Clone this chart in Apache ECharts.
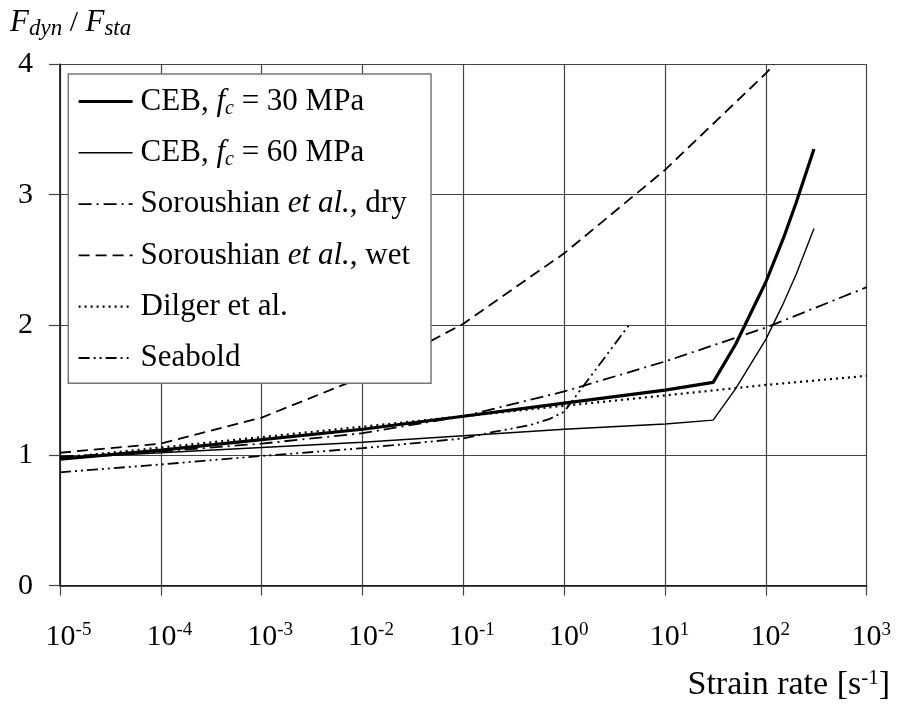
<!DOCTYPE html>
<html><head><meta charset="utf-8">
<script src="https://cdn.jsdelivr.net/npm/echarts@6/dist/echarts.min.js"></script>
<style>html,body{margin:0;padding:0;background:#fff}#c{width:900px;height:707px}</style>
</head><body><div id="c"></div>
<script>
const FONT = '"Liberation Serif","Times New Roman",serif';

// ---- data ----
const seriesNames = ['CEB, fc = 30 MPa', 'CEB, fc = 60 MPa', 'Soroushian et al., dry', 'Soroushian et al., wet', 'Dilger et al.', 'Seabold'];
const xTickExponents = [-5, -4, -3, -2, -1, 0, 1, 2, 3];
const yTickLabels = [0, 1, 2, 3, 4];

const ceb30Rate  = [1e-5, 1e-4, 1e-3, 1e-2, 1e-1, 1, 10, 30, 50, 100, 150, 200, 300];
const ceb30Value = [0.97, 1.04, 1.12, 1.20, 1.30, 1.40, 1.50, 1.56, 1.85, 2.33, 2.67, 2.94, 3.35];

const ceb60Rate  = [1e-5, 1e-4, 1e-3, 1e-2, 1e-1, 1, 10, 30, 50, 100, 150, 200, 300];
const ceb60Value = [0.98, 1.02, 1.06, 1.10, 1.15, 1.20, 1.24, 1.27, 1.51, 1.89, 2.17, 2.39, 2.74];

const soroDryRate  = [1e-5, 1e-4, 1e-3, 1e-2, 1e-1, 1, 10, 100, 1000];
const soroDryValue = [0.99, 1.03, 1.09, 1.17, 1.30, 1.49, 1.72, 1.98, 2.29];

const soroWetRate  = [1e-5, 1e-4, 1e-3, 1e-2, 1e-1, 1, 10, 100, 120];
const soroWetValue = [1.02, 1.09, 1.29, 1.60, 2.01, 2.55, 3.19, 3.93, 4.00];

const dilgerRate  = [1e-5, 1e-4, 1e-3, 1e-2, 1e-1, 1, 10, 100, 1000];
const dilgerValue = [0.98, 1.06, 1.14, 1.22, 1.30, 1.38, 1.46, 1.54, 1.61];

const seaboldRate  = [1e-5, 1e-4, 1e-3, 1e-2, 1e-1, 0.2, 0.45, 0.72, 1, 4.4];
const seaboldValue = [0.87, 0.93, 0.995, 1.055, 1.13, 1.18, 1.23, 1.28, 1.335, 2.00];

const legendRich = {
  'CEB, fc = 30 MPa': 'CEB, {i|f}{sub|c} = 30 MPa',
  'CEB, fc = 60 MPa': 'CEB, {i|f}{sub|c} = 60 MPa',
  'Soroushian et al., dry': 'Soroushian {i|et al.}, dry',
  'Soroushian et al., wet': 'Soroushian {i|et al.}, wet',
  'Dilger et al.': 'Dilger et al.',
  'Seabold': 'Seabold'
};

function pairs(r, v) { return r.map((x, i) => [x, v[i]]); }

const styles = [
  { width: 3.2, type: 'solid' },
  { width: 1.4, type: 'solid' },
  { width: 1.8, type: [13, 5, 2, 5] },
  { width: 1.8, type: [11, 6] },
  { width: 2.2, type: [2, 4] },
  { width: 1.8, type: [11, 4, 2, 4, 2, 4] }
];
const datas = [
  pairs(ceb30Rate, ceb30Value),
  pairs(ceb60Rate, ceb60Value),
  pairs(soroDryRate, soroDryValue),
  pairs(soroWetRate, soroWetValue),
  pairs(dilgerRate, dilgerValue),
  pairs(seaboldRate, seaboldValue)
];

const chart = echarts.init(document.getElementById('c'), null, { renderer: 'canvas' });
const gridColor = '#444';

chart.setOption({
  animation: false,
  backgroundColor: '#fff',
  textStyle: { fontFamily: FONT },
  title: [
    {
      left: 10, top: 6, padding: 0,
      text: '{F|F}{s|dyn}{n| / }{F|F}{s|sta}',
      textStyle: {
        fontFamily: FONT, fontWeight: 'normal',
        rich: {
          F: { fontFamily: FONT, fontStyle: 'italic', fontWeight: 'normal', fontSize: 31, lineHeight: 34, color: '#000' },
          n: { fontFamily: FONT, fontWeight: 'normal', fontSize: 30, lineHeight: 34, color: '#000' },
          s: { fontFamily: FONT, fontStyle: 'italic', fontWeight: 'normal', fontSize: 23, lineHeight: 25, verticalAlign: 'bottom', color: '#000' }
        }
      }
    },
    {
      right: 10, top: 668, padding: 0,
      text: '{n|Strain rate [s}{s|-1}{n|]}',
      textStyle: {
        fontFamily: FONT, fontWeight: 'normal',
        rich: {
          n: { fontFamily: FONT, fontWeight: 'normal', fontSize: 34, lineHeight: 34, color: '#000' },
          s: { fontFamily: FONT, fontWeight: 'normal', fontSize: 21, lineHeight: 12, verticalAlign: 'top', color: '#000' }
        }
      }
    }
  ],
  grid: { left: 60, right: 33.3, top: 64.3, bottom: 121.3, containLabel: false },
  xAxis: {
    type: 'log', logBase: 10, min: 1e-5, max: 1e3, splitNumber: 8,
    axisLine: { show: true, onZero: false, lineStyle: { color: '#111', width: 1.6 } },
    axisTick: { show: true, inside: false, length: 10, lineStyle: { color: gridColor, width: 1.2 } },
    minorTick: { show: false },
    splitLine: { show: true, lineStyle: { color: gridColor, width: 1.2 } },
    axisLabel: {
      margin: 35,
      formatter: function (v) {
        const e = Math.round(Math.log10(v));
        return (e < 0 ? '{spn| }' : '{spp| }') + '{b|10}{s|' + e + '}';
      },
      rich: {
        b: { fontFamily: FONT, fontSize: 30, lineHeight: 32, color: '#000' },
        s: { fontFamily: FONT, fontSize: 19, lineHeight: 12, verticalAlign: 'top', color: '#000' },
        spn: { width: 17, fontSize: 10 },
        spp: { width: 9, fontSize: 10 }
      }
    }
  },
  yAxis: {
    type: 'value', min: 0, max: 4, interval: 1,
    axisLine: { show: true, lineStyle: { color: '#111', width: 1.6 } },
    axisTick: { show: true, inside: false, length: 11, lineStyle: { color: gridColor, width: 1.2 } },
    splitLine: { show: true, lineStyle: { color: gridColor, width: 1.2 } },
    axisLabel: {
      margin: 27, fontFamily: FONT, fontSize: 30, color: '#000',
      formatter: function (v) { return yTickLabels.indexOf(v) >= 0 ? String(v) : ''; }
    }
  },
  graphic: [
    {
      type: 'rect', z: 5,
      shape: { x: 68.3, y: 74, width: 362.7, height: 309.3 },
      style: { fill: '#fff', stroke: '#777', lineWidth: 1.5 }
    }
  ],
  legend: {
    z: 10,
    orient: 'vertical',
    left: 77, top: 84.5,
    padding: 0,
    itemWidth: 54, itemHeight: 14,
    itemGap: 17.3,
    data: seriesNames,
    lineStyle: { width: 'inherit' },
    itemStyle: { opacity: 0, borderWidth: 0 },
    formatter: function (name) { return legendRich[name]; },
    textStyle: {
      fontFamily: FONT, fontSize: 31, lineHeight: 34, color: '#000', padding: [0, 0, 0, 3],
      rich: {
        i: { fontFamily: FONT, fontStyle: 'italic', fontSize: 31, lineHeight: 34, color: '#000' },
        sub: { fontFamily: FONT, fontStyle: 'italic', fontSize: 20, lineHeight: 22, verticalAlign: 'bottom', color: '#000' }
      }
    }
  },
  series: seriesNames.map((n, i) => ({
    name: n,
    type: 'line',
    data: datas[i],
    symbol: 'none',
    smooth: false,
    clip: true,
    z: 2,
    lineStyle: { color: '#000', width: styles[i].width, type: styles[i].type },
    itemStyle: { color: '#000' }
  }))
});
</script>
</body></html>
